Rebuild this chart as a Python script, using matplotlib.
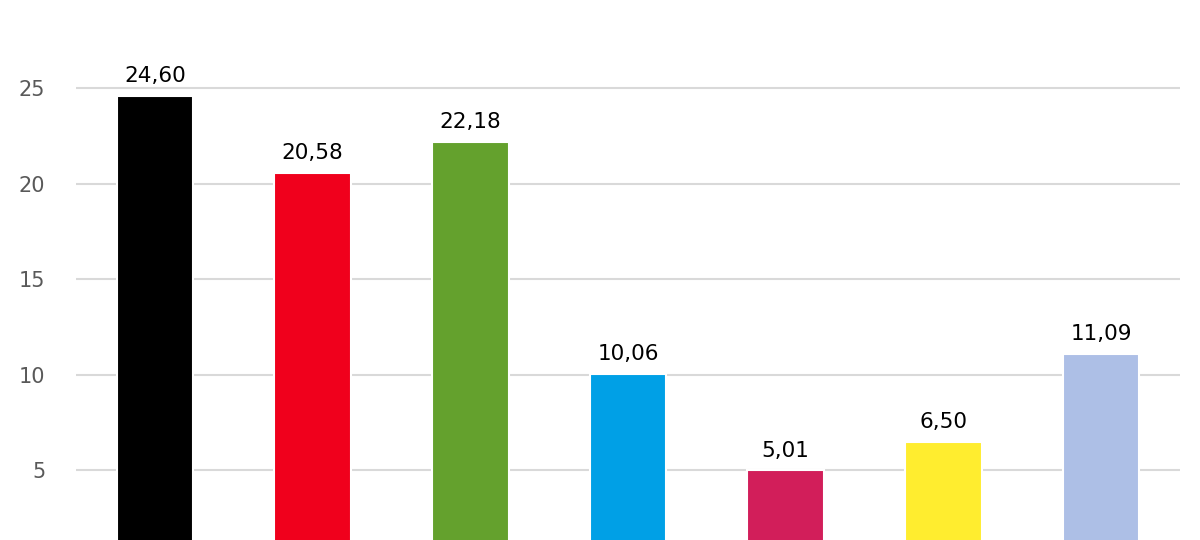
import matplotlib
matplotlib.use("Agg")
import matplotlib.pyplot as plt

categories = ["A", "B", "C", "D", "E", "F", "G"]
values = [24.60, 20.58, 22.18, 10.06, 5.01, 6.50, 11.09]
colors = ["#000000", "#f0001c", "#64a12d", "#00a0e6", "#d21e5a", "#ffed2f", "#adbfe6"]
yticks = [0, 5, 10, 15, 20, 25, 30]

plt.rcParams['font.family'] = ['DejaVu Sans']
fig = plt.figure(figsize=(12, 5.4), dpi=100)
# axes extends beyond the visible figure (chart is a crop)
ax = fig.add_axes([76/1200, (540-566)/540, 1104/1200, (566+7.5)/540])
x = list(range(len(categories)))
bars = ax.bar(x, values, width=0.485, color=colors, edgecolor="white", linewidth=1.5, zorder=3)
ax.set_xlim(-0.5, len(categories)-0.5)
ax.set_ylim(0, 30)
ax.set_yticks(yticks)
ax.set_yticklabels([str(t) for t in yticks], color="#595959", fontsize=15)
ax.tick_params(axis='y', length=0, pad=22)
ax.set_xticks([])
ax.grid(axis='y', color="#d9d9d9", linewidth=1.5, zorder=0)
for s in ax.spines.values():
    s.set_visible(False)
for xi, v in zip(x, values):
    ax.annotate(f"{v:.2f}".replace(".", ","), (xi, v), xytext=(0, 7), textcoords="offset points",
                ha="center", va="bottom", fontsize=15.5, color="#000000", zorder=4)
fig.savefig("out.png", dpi=100)
